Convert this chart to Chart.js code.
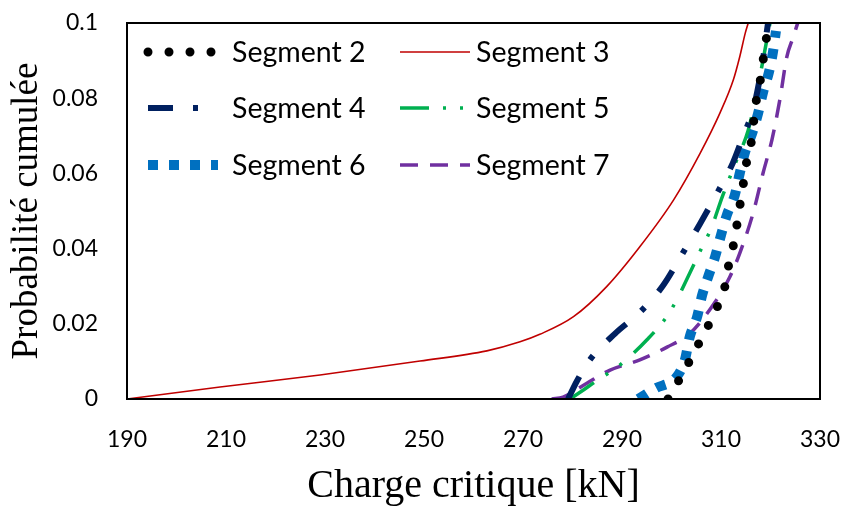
<!DOCTYPE html>
<html>
<head>
<meta charset="utf-8">
<script src="https://cdn.jsdelivr.net/npm/chart.js@4"></script>
<style>
  html, body { margin: 0; padding: 0; background: #fff; }
  #wrap { width: 847px; height: 506px; }
</style>
</head>
<body>
<div id="wrap"><canvas id="chart" width="847" height="506"></canvas></div>
<script>
// Charge critique [kN] (x) / Probabilité cumulée (y)
var seg2X = [299.3, 301.5, 303.6, 305.6, 307.6, 309.4, 310.8, 311.6, 312.6, 313.3, 314.0, 314.6, 315.3, 316.2, 316.7, 317.2, 318.1, 318.7, 319.3, 319.7];
var seg2Y = [0, 0.005, 0.01, 0.015, 0.02, 0.025, 0.03, 0.036, 0.0415, 0.047, 0.053, 0.058, 0.064, 0.069, 0.075, 0.080, 0.086, 0.092, 0.097, 0.1];

var seg3X = [190, 208.8, 229, 249.2, 262.7, 269.4, 273.4, 280.2, 286.9, 293.6, 300.4, 305.8, 309.8, 312.5, 313.8, 314.9, 315.5];
var seg3Y = [0, 0.0032, 0.0064, 0.0101, 0.0128, 0.0152, 0.0172, 0.0219, 0.0299, 0.0405, 0.0529, 0.0654, 0.0761, 0.0849, 0.0911, 0.0973, 0.1];

var seg4X = [279.1, 280.9, 283.5, 288.6, 293.8, 298.3, 302.1, 305.8, 309.2, 312.4, 314.5, 316.5, 318.2, 319.5];
var seg4Y = [0, 0.0048, 0.0104, 0.0174, 0.0233, 0.0302, 0.0384, 0.0467, 0.0547, 0.0628, 0.070, 0.077, 0.088, 0.1];

var seg5X = [279.5, 282.2, 284.6, 287.6, 290.2, 295.0, 299.1, 300.9, 303.7, 306.4, 307.9, 310.4, 313.0, 315.5, 317.0, 318.5, 319.9];
var seg5Y = [0, 0.0024, 0.0046, 0.0072, 0.0097, 0.0157, 0.022, 0.026, 0.0335, 0.041, 0.045, 0.0543, 0.063, 0.0715, 0.080, 0.0902, 0.1];

var seg6X = [293.3, 296.7, 301.1, 302.7, 303.7, 305.2, 306.2, 307.4, 308.8, 310.0, 311.2, 312.8, 313.8, 314.8, 316.3, 317.5, 318.5, 319.7, 320.5, 321.1];
var seg6Y = [0, 0.0028, 0.006, 0.0104, 0.0166, 0.022, 0.0277, 0.0325, 0.0378, 0.0436, 0.049, 0.0543, 0.0601, 0.0654, 0.0707, 0.076, 0.0816, 0.087, 0.0923, 0.0979];

var seg7X = [275.8, 278.1, 282.9, 287.6, 293.6, 299.1, 303.7, 308.4, 311.8, 313.8, 316.5, 318.5, 320.3, 321.9, 323.3, 324.6, 325.5];
var seg7Y = [0, 0.0005, 0.0042, 0.0077, 0.0104, 0.0138, 0.0174, 0.025, 0.0325, 0.0388, 0.0495, 0.0601, 0.069, 0.0797, 0.091, 0.0963, 0.1];

var names = ['Segment 2', 'Segment 3', 'Segment 4', 'Segment 5', 'Segment 6', 'Segment 7'];
var xTicks = [190, 210, 230, 250, 270, 290, 310, 330];
var yTicks = [0, 0.02, 0.04, 0.06, 0.08, 0.1];

function pts(xs, ys) {
  return xs.map(function (x, i) { return { x: x, y: ys[i] }; });
}

var styles = [
  { color: '#000000', width: 9, dash: [0, 21], cap: 'round' },
  { color: '#C00000', width: 1.6, dash: [], cap: 'butt' },
  { color: '#002060', width: 6, dash: [25, 20, 5, 21], cap: 'butt' },
  { color: '#00B050', width: 3.5, dash: [29, 14, 3, 14, 3, 16], cap: 'butt' },
  { color: '#0070C0', width: 10, dash: [10, 11], cap: 'butt' },
  { color: '#7030A0', width: 3.5, dash: [18, 12], cap: 'butt' }
];
var series = [pts(seg2X, seg2Y), pts(seg3X, seg3Y), pts(seg4X, seg4Y), pts(seg5X, seg5Y), pts(seg6X, seg6Y), pts(seg7X, seg7Y)];

var datasets = series.map(function (d, i) {
  var s = styles[i];
  return {
    label: names[i],
    data: d,
    borderColor: s.color,
    backgroundColor: s.color,
    borderWidth: s.width,
    borderDash: s.dash,
    borderCapStyle: s.cap,
    pointRadius: 0,
    cubicInterpolationMode: 'monotone',
    fill: false
  };
});

// legend: 2 columns, 3 rows, inside plot area
var legendPlugin = {
  id: 'boxLegend',
  afterDraw: function (chart) {
    var ctx = chart.ctx;
    var a = chart.chartArea;
    ctx.save();
    // frame
    ctx.strokeStyle = '#000';
    ctx.lineWidth = 2;
    ctx.setLineDash([]);
    ctx.strokeRect(a.left, a.top, a.right - a.left, a.bottom - a.top);
    var cols = [{ x0: 148, x1: 218, tx: 232 }, { x0: 400, x1: 470, tx: 476 }];
    var rows = [52, 108, 165];
    for (var i = 0; i < names.length; i++) {
      var c = cols[i % 2], y = rows[Math.floor(i / 2)], s = styles[i];
      ctx.beginPath();
      ctx.strokeStyle = s.color;
      ctx.lineWidth = s.width;
      ctx.lineCap = s.cap;
      ctx.setLineDash(s.dash);
      ctx.moveTo(c.x0, y);
      ctx.lineTo(c.x1, y);
      ctx.stroke();
      ctx.setLineDash([]);
      ctx.fillStyle = '#000';
      ctx.font = '28.5px Lato';
      ctx.textBaseline = 'middle';
      ctx.textAlign = 'left';
      ctx.fillText(names[i], c.tx, y + 1);
    }
    ctx.restore();
  }
};

var chart = new Chart(document.getElementById('chart'), {
  type: 'line',
  data: { datasets: datasets },
  options: {
    responsive: false,
    animation: false,
    layout: { padding: { top: 23, right: 27, left: 0, bottom: 0 } },
    plugins: { legend: { display: false }, tooltip: { enabled: false } },
    scales: {
      x: {
        type: 'linear',
        min: 190, max: 330,
        afterFit: function (s) { s.height = 107; s.paddingLeft = 0; s.paddingRight = 0; },
        afterBuildTicks: function (s) { s.ticks = xTicks.map(function (v) { return { value: v }; }); },
        grid: { display: false, drawTicks: false },
        border: { display: false },
        ticks: { color: '#000', font: { family: 'Lato', size: 23 }, padding: 27, maxRotation: 0 },
        title: { display: true, text: 'Charge critique [kN]', color: '#000',
          font: { family: 'Liberation Serif', size: 40, lineHeight: 1 }, padding: { top: 0, bottom: 0 } }
      },
      y: {
        min: 0, max: 0.1,
        afterFit: function (s) { s.width = 127; s.paddingTop = 0; s.paddingBottom = 0; },
        afterBuildTicks: function (s) { s.ticks = yTicks.map(function (v) { return { value: v }; }); },
        grid: { display: false, drawTicks: false },
        border: { display: false },
        ticks: { color: '#000', font: { family: 'Lato', size: 23 }, padding: 29,
          callback: function (v) { return String(+v.toFixed(2)); } },
        title: { display: true, text: 'Probabilité cumulée', color: '#000',
          font: { family: 'Liberation Serif', size: 37, lineHeight: 1 }, padding: { top: 9, bottom: 0 } }
      }
    }
  },
  plugins: [legendPlugin]
});
</script>
</body>
</html>
